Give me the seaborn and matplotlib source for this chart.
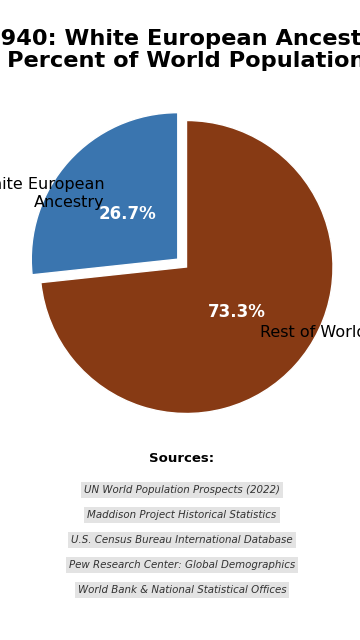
import matplotlib
matplotlib.use("Agg")
import matplotlib.pyplot as plt
import seaborn as sns

sns.set_theme(style="white")
plt.rcParams['font.family'] = ['DejaVu Sans']
plt.rcParams['text.color'] = 'black'

labels = ["White European\nAncestry", "Rest of World"]
values = [26.7, 73.3]
colors = ["#3A75AF", "#873A14"]
explode = [0.08, 0.0]
title = "1940: White European Ancestry\nPercent of World Population"
sources = [
    "UN World Population Prospects (2022)",
    "Maddison Project Historical Statistics",
    "U.S. Census Bureau International Database",
    "Pew Research Center: Global Demographics",
    "World Bank & National Statistical Offices",
]

W, H = 360, 640
cx, cy, r = 186.5, 267, 146.5
fig = plt.figure(figsize=(W / 100, H / 100), dpi=100)
ax = fig.add_axes([(cx - 1.25 * r) / W, 1 - (cy + 1.25 * r) / H, 2.5 * r / W, 2.5 * r / H])
wedges, texts, autotexts = ax.pie(
    values, labels=labels, colors=colors, explode=explode, startangle=90,
    autopct="%1.1f%%", labeldistance=0.67, pctdistance=0.46,
    wedgeprops=dict(edgecolor="white", linewidth=1),
    textprops=dict(fontsize=11.5, color="black"),
)
for t in autotexts:
    t.set_color("white")
    t.set_fontweight("bold")
    t.set_fontsize(12)
ax.set_xlim(-1.25, 1.25)
ax.set_ylim(-1.25, 1.25)
ax.set_aspect("equal")

fig.text(cx / W, 1 - 50 / H, title, ha="center", va="center",
         fontsize=16.2, fontweight="bold", linespacing=1.15, color="black")
fig.text(181.5 / W, 1 - 459 / H, "Sources:", ha="center", va="center",
         fontsize=9.5, fontweight="bold", color="black")
for i, s in enumerate(sources):
    fig.text(182 / W, 1 - (490 + 25 * i) / H, s, ha="center", va="center",
             fontsize=7.4, style="italic", color="#333333",
             bbox=dict(boxstyle="square,pad=0.3", facecolor="#e3e3e3", edgecolor="none"))

fig.savefig("out.png", dpi=100, facecolor="white")
